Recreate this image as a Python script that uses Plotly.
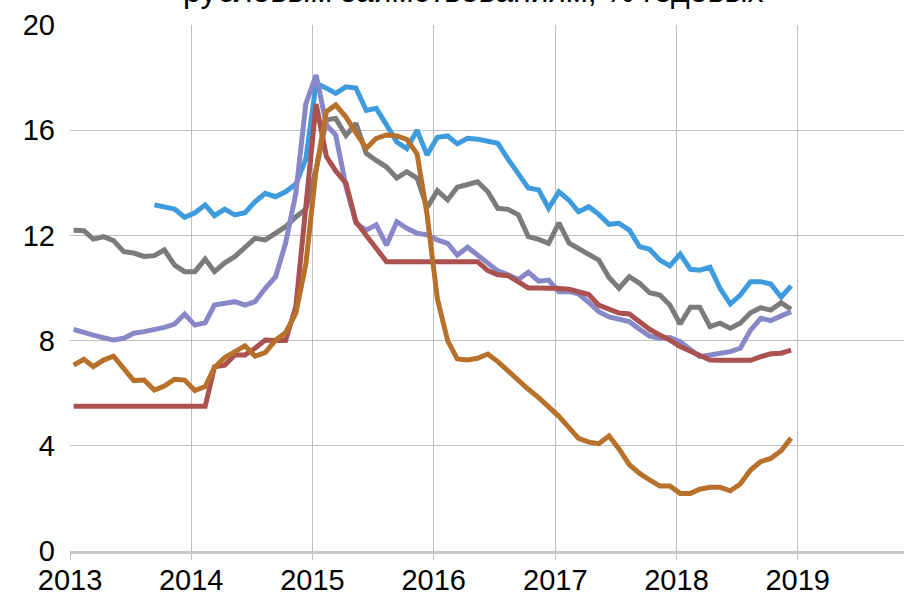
import pandas as pd
import plotly.graph_objects as go

months = pd.date_range("2013-01-01", periods=72, freq="MS") + pd.Timedelta(days=11)

blue = [None] * 8 + [
    13.16, 13.07, 13.0, 12.69,
    12.86, 13.16, 12.75, 13.0, 12.78, 12.86, 13.28, 13.6, 13.47, 13.66, 13.95, 14.9,
    17.78, 17.6, 17.4, 17.65, 17.6, 16.75, 16.83, 16.2, 15.55, 15.3, 16.0, 15.06,
    15.73, 15.78, 15.48, 15.69, 15.66, 15.58, 15.5, 14.9, 14.3, 13.8, 13.73, 13.03,
    13.66, 13.33, 12.9, 13.09, 12.8, 12.42, 12.46, 12.2, 11.57, 11.47, 11.06, 10.84,
    11.29, 10.71, 10.68, 10.79, 9.99, 9.39, 9.73, 10.24, 10.24, 10.15, 9.65, 10.08,
]
gray = [
    12.2, 12.18, 11.86, 11.95, 11.8, 11.38, 11.33, 11.2, 11.23, 11.45, 10.87, 10.62,
    10.62, 11.1, 10.62, 10.96, 11.19, 11.57, 11.89, 11.83, 12.09, 12.33, 12.7, 13.0,
    14.5, 16.4, 16.45, 15.8, 16.26, 15.12, 14.85, 14.6, 14.18, 14.42, 14.18, 13.05,
    13.7, 13.35, 13.83, 13.95, 14.04, 13.66, 13.03, 12.99, 12.78, 11.95, 11.85, 11.7,
    12.48, 11.7, 11.5, 11.32, 11.06, 10.4, 9.99, 10.43, 10.18, 9.82, 9.73, 9.35,
    8.63, 9.27, 9.27, 8.53, 8.66, 8.47, 8.66, 9.06, 9.25, 9.16, 9.44, 9.19,
]
lavender = [
    8.43, 8.3, 8.21, 8.11, 8.02, 8.09, 8.28, 8.34, 8.4, 8.5, 8.63, 9.01,
    8.59, 8.68, 9.35, 9.42, 9.48, 9.35, 9.48, 9.99, 10.43, 11.7, 13.6, 17.0,
    18.1, 16.2, 15.82, 13.85, 12.46, 12.2, 12.4, 11.63, 12.52, 12.27, 12.08, 12.02,
    11.83, 11.7, 11.25, 11.55, 11.25, 10.98, 10.65, 10.5, 10.32, 10.6, 10.26, 10.3,
    9.86, 9.86, 9.78, 9.45, 9.1, 8.9, 8.82, 8.72, 8.43, 8.17, 8.09, 8.12,
    7.96, 7.64, 7.39, 7.45, 7.52, 7.58, 7.71, 8.4, 8.85, 8.76, 8.94, 9.1,
]
red = [
    5.5, 5.5, 5.5, 5.5, 5.5, 5.5, 5.5, 5.5, 5.5, 5.5, 5.5, 5.5,
    5.5, 5.5, 7.0, 7.07, 7.45, 7.45, 7.71, 8.02, 8.0, 8.0, 9.3, 12.9,
    17.0, 15.0, 14.45, 13.98, 12.52, 12.0, 11.5, 11.0, 11.0, 11.0, 11.0, 11.0,
    11.0, 11.0, 11.0, 11.0, 11.0, 10.66, 10.5, 10.47, 10.24, 10.0, 10.0, 10.0,
    9.98, 9.95, 9.85, 9.75, 9.35, 9.2, 9.05, 9.01, 8.72, 8.43, 8.21, 8.02,
    7.77, 7.58, 7.41, 7.26, 7.25, 7.25, 7.25, 7.25, 7.39, 7.5, 7.52, 7.64,
]
orange = [
    7.07, 7.29, 7.01, 7.26, 7.41, 6.91, 6.48, 6.5, 6.12, 6.27, 6.53, 6.5,
    6.1, 6.25, 6.98, 7.36, 7.58, 7.8, 7.41, 7.54, 8.02, 8.3, 9.04, 10.9,
    14.5, 16.7, 16.96, 16.5, 15.9, 15.31, 15.69, 15.82, 15.78, 15.65, 15.1, 12.8,
    9.6, 8.0, 7.3, 7.26, 7.33, 7.49, 7.2, 6.85, 6.45, 6.15, 5.83, 5.5,
    5.12, 4.68, 4.28, 4.14, 4.08, 4.37, 3.88, 3.28, 2.95, 2.7, 2.47, 2.47,
    2.19, 2.19, 2.35, 2.42, 2.42, 2.29, 2.55, 3.08, 3.4, 3.52, 3.81, 4.29,
]

series = [
    ("blue", blue, "#3d9bde"),
    ("gray", gray, "#7b7b7b"),
    ("lavender", lavender, "#8888c8"),
    ("red", red, "#ab5251"),
    ("orange", orange, "#b8712b"),
]

font_family = "Liberation Sans, Arial, sans-serif"

fig = go.Figure()
for name, vals, color in series:
    fig.add_trace(go.Scatter(
        x=months, y=vals, mode="lines", name=name,
        line=dict(color=color, width=5),
        connectgaps=False,
    ))

fig.update_layout(
    width=904, height=595,
    margin=dict(l=70, r=0, t=25, b=44),
    paper_bgcolor="white", plot_bgcolor="white",
    showlegend=False,
    font=dict(family=font_family, color="black"),
    annotations=[dict(
        text="рублевым заимствованиям, % годовых",
        xref="paper", yref="paper", x=0.483, y=1.065,
        xanchor="center", yanchor="middle", showarrow=False,
        font=dict(size=32, family=font_family, color="black"),
    )],
)
fig.update_xaxes(
    type="date",
    range=["2013-01-01", "2019-11-17"],
    tick0="2013-01-01", dtick="M12", tickformat="%Y",
    showgrid=True, gridcolor="#c0c0c0", gridwidth=1.3,
    ticks="outside", ticklen=6, tickcolor="#c0c0c0", tickwidth=1.3,
    ticklabelstandoff=-5,
    showline=True, linecolor="#c8c8c8", linewidth=2.5,
    tickfont=dict(size=29, family=font_family, color="black"),
    zeroline=False, automargin=False,
)
fig.update_yaxes(
    range=[0, 20], tickvals=[0, 4, 8, 12, 16, 20],
    showgrid=True, gridcolor="#c0c0c0", gridwidth=1.3,
    showline=False, zeroline=False,
    ticks="", ticklabelstandoff=14,
    tickfont=dict(size=29, family=font_family, color="black"),
    automargin=False,
)

fig.write_html(
    "out.html",
    config={"displayModeBar": False},
    post_script="document.body.style.margin='0';document.body.style.overflow='hidden';",
)
